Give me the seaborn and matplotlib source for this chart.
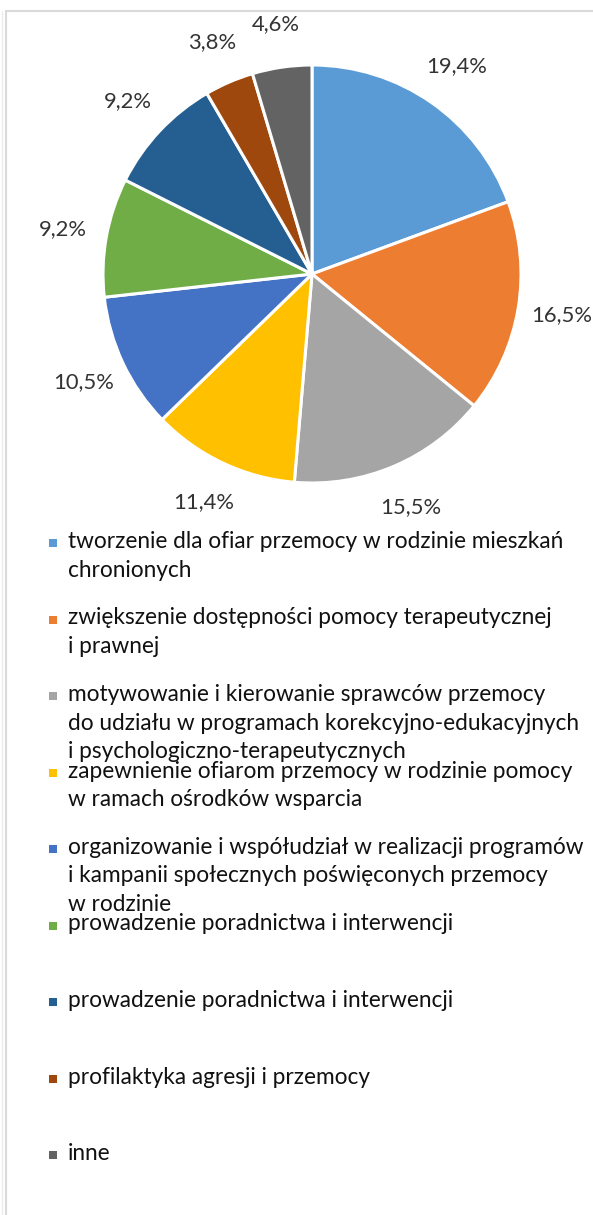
import matplotlib
matplotlib.use("Agg")
import matplotlib.pyplot as plt
import seaborn as sns
from matplotlib.patches import Rectangle
from matplotlib.lines import Line2D

categories = [
    "tworzenie dla ofiar przemocy w rodzinie mieszkań\nchronionych",
    "zwiększenie dostępności pomocy terapeutycznej\ni prawnej",
    "motywowanie i kierowanie sprawców przemocy\ndo udziału w programach korekcyjno-edukacyjnych\ni psychologiczno-terapeutycznych",
    "zapewnienie ofiarom przemocy w rodzinie pomocy\nw ramach ośrodków wsparcia",
    "organizowanie i współudział w realizacji programów\ni kampanii społecznych poświęconych przemocy\nw rodzinie",
    "prowadzenie poradnictwa i interwencji",
    "prowadzenie poradnictwa i interwencji",
    "profilaktyka agresji i przemocy",
    "inne",
]
values = [19.4, 16.5, 15.5, 11.4, 10.5, 9.2, 9.2, 3.8, 4.6]
value_labels = ["19,4%", "16,5%", "15,5%", "11,4%", "10,5%", "9,2%", "9,2%", "3,8%", "4,6%"]
colors = ["#5B9BD5", "#ED7D31", "#A5A5A5", "#FFC000", "#4472C4",
          "#70AD47", "#255E91", "#9E480E", "#636363"]

sns.set_theme(style="white")
FONT = ["Lato", "DejaVu Sans"]
plt.rcParams["font.family"] = FONT

W, H = 593, 1215
fig = plt.figure(figsize=(W / 100, H / 100), dpi=100)
fig.patch.set_facecolor("white")

# pie axes: centre (312, 274) px, radius 209 px
R = 209
cx, cy = 312, 274
lim = 1.3
side = 2 * lim * R
ax = fig.add_axes([(cx - side / 2) / W, (H - cy - side / 2) / H, side / W, side / H])
wedges, texts = ax.pie(values, colors=colors, startangle=90, counterclock=False,
                       labels=value_labels, labeldistance=1.21,
                       wedgeprops=dict(edgecolor="white", linewidth=2.2),
                       textprops=dict(fontsize=15.8, color="#333333"))
for t in texts:
    t.set_ha("center")
    t.set_va("center")
ax.set_xlim(-lim, lim)
ax.set_ylim(-lim, lim)
ax.set_aspect("equal")
ax.axis("off")

# legend: each entry starts at a fixed step, lines 28 px apart
first_base = 548
step = 76.5
line_gap = 28.5
for i, (lab, col) in enumerate(zip(categories, colors)):
    yb = first_base + i * step
    fig.patches.append(Rectangle((49 / W, (H - yb + 1) / H), 8 / W, 8 / H,
                                 transform=fig.transFigure, facecolor=col,
                                 edgecolor="none"))
    for j, line in enumerate(lab.split("\n")):
        fig.text(68 / W, (H - yb - j * line_gap) / H, line, fontsize=16.3,
                 color="#111111", ha="left", va="baseline")

# chart border
fig.lines.append(Line2D([6 / W, 6 / W], [0, (H - 11) / H], transform=fig.transFigure,
                        color="#d9d9d9", linewidth=1.5))
fig.lines.append(Line2D([6 / W, 1], [(H - 11) / H, (H - 11) / H], transform=fig.transFigure,
                        color="#d9d9d9", linewidth=1.5))
fig.lines.append(Line2D([2 / W, 2 / W], [0, (H - 11) / H], transform=fig.transFigure,
                        color="#ececec", linewidth=1))

fig.savefig("out.png", dpi=100, facecolor="white")
